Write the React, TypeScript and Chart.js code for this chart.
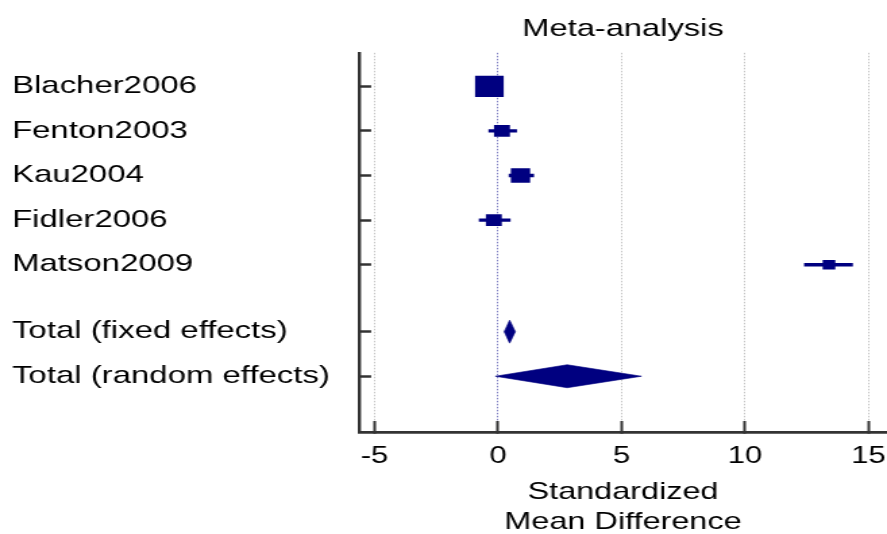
import React, { useEffect, useRef } from 'react';
import { Chart, registerables } from 'chart.js';

Chart.register(...registerables);

// ---- data ----
const studyLabels = ['Blacher2006', 'Fenton2003', 'Kau2004', 'Fidler2006', 'Matson2009'];
const studyEffect = [-0.35, 0.16, 0.91, -0.17, 13.4];
const studyLow = [-0.62, -0.37, 0.45, -0.76, 12.41];
const studyHigh = [-0.08, 0.75, 1.44, 0.49, 14.35];
const studyWeight = [44.0, 13.7, 20.0, 13.7, 8.6];

const pooledLabels = ['Total (fixed effects)', 'Total (random effects)'];
const pooledEffect = [0.47, 2.8];
const pooledLow = [0.25, -0.11];
const pooledHigh = [0.7, 5.81];

const rowPositions = [1, 2, 3, 4, 5, 6.5, 7.5];
const xTickValues = [-5, 0, 5, 10, 15];

const chartTitle = 'Meta-analysis';
const xAxisTitle = ['Standardized', 'Mean Difference'];

// ---- style ----
const NAVY = '#000080';
const AXIS = '#333333';
const FONT = "'Liberation Sans', Arial, Helvetica, sans-serif";
const CANVAS_W = 657;
const CANVAS_H = 534;
const STRETCH = 887 / CANVAS_W;

const allLabels = [...studyLabels, ...pooledLabels];

const diamondPlugin = {
  id: 'diamonds',
  afterDatasetsDraw(chart: any) {
    const { ctx, scales } = chart;
    const x = scales.x;
    const y = scales.y;
    ctx.save();
    ctx.fillStyle = NAVY;
    ctx.strokeStyle = NAVY;
    ctx.lineWidth = 0.6;
    pooledEffect.forEach((est: number, i: number) => {
      const cy = y.getPixelForValue(rowPositions[studyLabels.length + i]);
      const xl = x.getPixelForValue(pooledLow[i]);
      const xe = x.getPixelForValue(est);
      const xh = x.getPixelForValue(pooledHigh[i]);
      const h = 11.5;
      ctx.beginPath();
      ctx.moveTo(xl, cy);
      ctx.lineTo(xe, cy - h);
      ctx.lineTo(xh, cy);
      ctx.lineTo(xe, cy + h);
      ctx.closePath();
      ctx.fill();
      ctx.stroke();
    });
    ctx.restore();
  },
};

export default function App() {
  const ref = useRef<HTMLCanvasElement>(null);

  useEffect(() => {
    if (!ref.current) return;
    const chart = new Chart(ref.current, {
      type: 'bar',
      data: {
        datasets: [
          {
            type: 'scatter' as any,
            label: 'effect',
            data: studyEffect.map((v, i) => ({ x: v, y: rowPositions[i] })),
            pointStyle: 'rect',
            pointRadius: studyWeight.map((w) => (3.2 * Math.sqrt(w)) / Math.SQRT2),
            pointBackgroundColor: NAVY,
            pointBorderColor: NAVY,
            pointBorderWidth: 0,
            order: 1,
          } as any,
          {
            type: 'bar',
            label: 'ci',
            indexAxis: 'y',
            data: studyLow.map((lo, i) => ({ x: [lo, studyHigh[i]], y: rowPositions[i] })),
            backgroundColor: NAVY,
            borderWidth: 0,
            barThickness: 2.7,
            order: 2,
          } as any,
        ],
      },
      options: {
        indexAxis: 'y',
        responsive: false,
        animation: false,
        devicePixelRatio: 1,
        layout: { autoPadding: false, padding: { left: 8.9, right: 0, top: 0, bottom: 0 } },
        plugins: {
          legend: { display: false },
          tooltip: { enabled: false },
          title: {
            display: true,
            text: chartTitle,
            fullSize: false,
            color: '#000',
            font: { family: FONT, size: 24.2, weight: 'normal', lineHeight: 1.2 },
            padding: { top: 14.7, bottom: 9.1 },
          },
        },
        scales: {
          x: {
            type: 'linear',
            position: 'bottom',
            offset: false,
            min: -5.63,
            max: 15.75,
            afterBuildTicks: (s: any) => {
              s.ticks = xTickValues.map((v) => ({ value: v }));
            },
            afterFit: (s: any) => {
              s.height = 102;
              s.paddingLeft = 0;
              s.paddingRight = 0;
            },
            grid: {
              display: true,
              offset: false,
              drawOnChartArea: true,
              drawTicks: true,
              tickLength: -11,
              color: (c: any) => (c.tick && c.tick.value === 0 ? '#5a5ab0' : '#b4b4b4'),
              lineWidth: 0.8,
              tickColor: AXIS,
              tickWidth: 2,
            },
            border: { display: true, color: AXIS, width: 2.7, dash: [1.5, 1.5] },
            ticks: {
              autoSkip: false,
              maxRotation: 0,
              padding: 21.5,
              color: '#000',
              font: { family: FONT, size: 23 },
            },
            title: {
              display: true,
              text: xAxisTitle,
              color: '#000',
              font: { family: FONT, size: 24, lineHeight: 1.25 },
              padding: { top: 0, bottom: -3.5 },
            },
          },
          y: {
            type: 'linear',
            position: 'left',
            reverse: true,
            offset: false,
            min: 0.25,
            max: 8.75,
            afterBuildTicks: (s: any) => {
              s.ticks = rowPositions.map((v) => ({ value: v }));
            },
            afterFit: (s: any) => {
              s.width = 257;
              s.paddingTop = 0;
              s.paddingBottom = 0;
            },
            grid: {
              display: true,
              offset: false,
              drawOnChartArea: false,
              drawTicks: true,
              tickLength: -9,
              tickColor: AXIS,
              tickWidth: 2.5,
            },
            border: { display: true, color: AXIS, width: 2.4 },
            ticks: {
              autoSkip: false,
              crossAlign: 'far',
              padding: 0,
              color: '#000',
              font: { family: FONT, size: 24.4 },
              callback: (_v: any, i: number) => allLabels[i],
            },
          },
        },
      } as any,
      plugins: [diamondPlugin],
    });
    return () => chart.destroy();
  }, []);

  return (
    <div style={{ position: 'absolute', left: 0, top: 0, width: 887, height: CANVAS_H, overflow: 'hidden' }}>
      <canvas
        ref={ref}
        width={CANVAS_W}
        height={CANVAS_H}
        style={{
          display: 'block',
          width: CANVAS_W,
          height: CANVAS_H,
          transform: `scaleX(${STRETCH})`,
          transformOrigin: '0 0',
        }}
      />
    </div>
  );
}
